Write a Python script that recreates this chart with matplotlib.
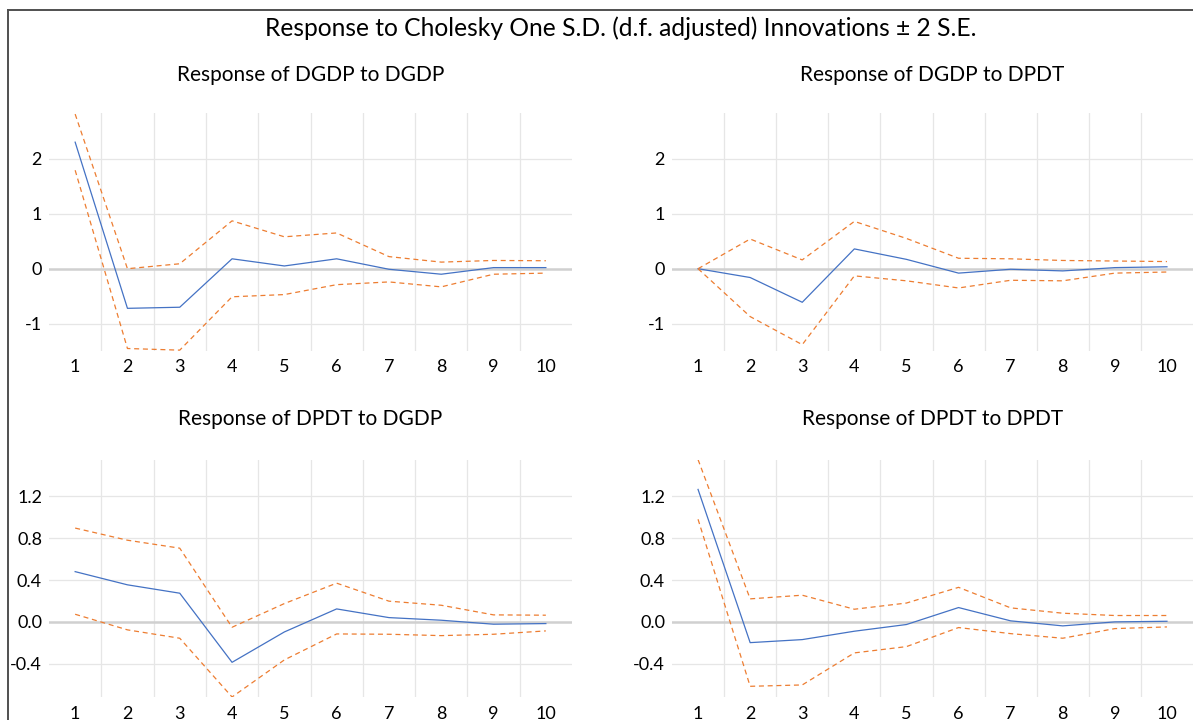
import matplotlib
matplotlib.use("Agg")
import matplotlib.pyplot as plt
from matplotlib.lines import Line2D

plt.rcParams['font.family'] = ['Lato', 'DejaVu Sans']

periods = [1, 2, 3, 4, 5, 6, 7, 8, 9, 10]
main_title = "Response to Cholesky One S.D. (d.f. adjusted) Innovations \u00b1 2 S.E."

# Response of DGDP to DGDP
gg_mid = [2.30, -0.72, -0.70, 0.18, 0.05, 0.18, -0.01, -0.10, 0.02, 0.02]
gg_up = [2.81, 0.00, 0.09, 0.87, 0.58, 0.65, 0.22, 0.12, 0.15, 0.145]
gg_lo = [1.79, -1.45, -1.48, -0.51, -0.47, -0.29, -0.24, -0.33, -0.10, -0.08]

# Response of DGDP to DPDT
gp_mid = [0.0, -0.16, -0.61, 0.36, 0.17, -0.08, -0.01, -0.04, 0.02, 0.035]
gp_up = [0.0, 0.54, 0.16, 0.86, 0.55, 0.19, 0.18, 0.15, 0.14, 0.13]
gp_lo = [0.0, -0.87, -1.38, -0.13, -0.22, -0.35, -0.21, -0.22, -0.08, -0.06]

# Response of DPDT to DGDP
pg_mid = [0.48, 0.354, 0.274, -0.386, -0.096, 0.124, 0.041, 0.016, -0.022, -0.016]
pg_up = [0.896, 0.78, 0.704, -0.051, 0.175, 0.37, 0.198, 0.159, 0.067, 0.064]
pg_lo = [0.073, -0.076, -0.156, -0.717, -0.363, -0.115, -0.118, -0.131, -0.118, -0.086]

# Response of DPDT to DPDT
pp_mid = [1.265, -0.198, -0.169, -0.089, -0.025, 0.137, 0.01, -0.038, 0.0, 0.006]
pp_up = [1.55, 0.22, 0.255, 0.121, 0.18, 0.33, 0.134, 0.083, 0.061, 0.061]
pp_lo = [0.98, -0.615, -0.602, -0.296, -0.236, -0.054, -0.112, -0.156, -0.064, -0.048]

titles = ["Response of DGDP to DGDP", "Response of DGDP to DPDT",
          "Response of DPDT to DGDP", "Response of DPDT to DPDT"]
top_ticks = [-1, 0, 1, 2]
top_ticklabels = ["-1", "0", "1", "2"]
bot_ticks = [-0.4, 0.0, 0.4, 0.8, 1.2]
bot_ticklabels = ["-0.4", "0.0", "0.4", "0.8", "1.2"]

series = [(gg_mid, gg_up, gg_lo), (gp_mid, gp_up, gp_lo),
          (pg_mid, pg_up, pg_lo), (pp_mid, pp_up, pp_lo)]

W, H = 1193, 720
fig = plt.figure(figsize=(W / 100, H / 100), dpi=100)

def px_axes(x0, y0, x1, y1):
    return fig.add_axes([x0 / W, 1 - y1 / H, (x1 - x0) / W, (y1 - y0) / H])

boxes = [(49, 113, 572, 350.7), (672, 113, 1193, 350.7),
         (49, 460, 572, 697.3), (672, 460, 1193, 697.3)]

BLUE = "#4472C4"
ORANGE = "#ED7D31"

for i, (box, (mid, up, lo)) in enumerate(zip(boxes, series)):
    ax = px_axes(*box)
    ax.set_xlim(0.5, 10.5)
    if i < 2:
        ax.set_ylim(-1.49, 2.83)
        ax.set_yticks(top_ticks)
        ax.set_yticklabels(top_ticklabels)
    else:
        ax.set_ylim(-0.72, 1.546)
        ax.set_yticks(bot_ticks)
        ax.set_yticklabels(bot_ticklabels)
    ax.set_xticks(periods)
    ax.set_xticklabels([str(p) for p in periods])
    for s in ax.spines.values():
        s.set_visible(False)
    ax.tick_params(length=0, labelsize=13, colors="#000000")
    ax.tick_params(axis='y', pad=5)
    ax.tick_params(axis='x', pad=6)
    # horizontal gridlines
    for t in ax.get_yticks():
        if abs(t) > 1e-9:
            ax.axhline(t, color="#E6E6E6", lw=0.9, zorder=0)
    # vertical gridlines between categories
    for p in periods[:-1]:
        ax.axvline(p + 0.5, color="#E6E6E6", lw=0.9, zorder=0)
    ax.axhline(0, color="#D0D0D0", lw=1.8, zorder=1)
    ax.plot(periods, mid, color=BLUE, lw=0.9, zorder=3)
    ax.plot(periods, up, color=ORANGE, lw=0.9, ls=(0, (4, 3)), zorder=3)
    ax.plot(periods, lo, color=ORANGE, lw=0.9, ls=(0, (4, 3)), zorder=3)
    cx = (box[0] + box[2]) / 2 / W
    ty = 75 if i < 2 else 419
    fig.text(cx, 1 - ty / H, titles[i], ha="center", va="center", fontsize=15)

fig.text(621 / W, 1 - 28 / H, main_title, ha="center", va="center", fontsize=17.7)

# outer frame (left and top edges visible)
fig.add_artist(Line2D([8 / W, 8 / W], [0, 1 - 10 / H], color="#505050", lw=1.4))
fig.add_artist(Line2D([8 / W, 1], [1 - 10 / H, 1 - 10 / H], color="#505050", lw=1.4))

fig.savefig("out.png", dpi=100)
